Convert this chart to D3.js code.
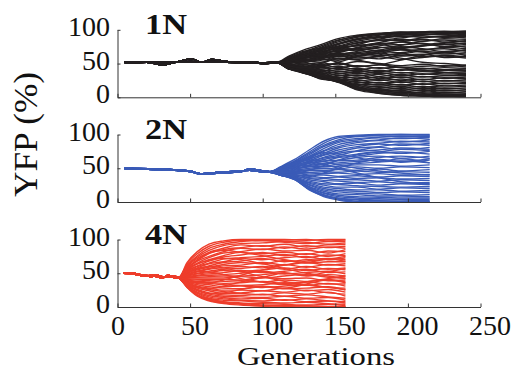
<!DOCTYPE html>
<html>
<head>
<meta charset="utf-8">
<script src="https://cdn.jsdelivr.net/npm/d3@7"></script>
<style>
  body { margin: 0; background: #fff; }
  svg text { font-family: "Liberation Serif", "DejaVu Serif", serif; fill: #111; }
</style>
</head>
<body>
<svg id="chart" width="511" height="370"></svg>
<script>
const panelNames  = ['1N', '2N', '4N'];
const panelColors = ['#231f20', '#3a5bb7', '#ee3d2b'];
const xTicks = [0, 50, 100, 150, 200, 250];
const yTicks = [0, 50, 100];
const serif = '"Liberation Serif", "DejaVu Serif", serif';

// 1N: shared start (three variants), then the individual trajectories
const earlyGens1N = [5, 20, 31, 40, 51, 58, 65, 75, 90, 100, 110];
const earlyVals1N = [
    [52, 52, 52, 52, 52, 52, 52, 52, 52, 51, 52],
    [52, 52, 48, 52, 57, 52, 56, 53, 52, 51, 51],
    [51, 52, 51, 52, 53, 52, 53, 52, 51, 50, 51]
];
const lateGens1N = [118, 128, 140, 152, 165, 180, 195, 210, 225, 240];
const lateVals1N = [
    [58, 66, 74, 84, 91, 94, 96, 97, 97, 98], [60, 68, 73, 82, 89, 93, 95, 96, 97, 97],
    [57, 63, 71, 80, 87, 92, 94, 95, 96, 96], [56, 62, 69, 78, 85, 90, 93, 93, 95, 95],
    [59, 64, 70, 76, 83, 88, 90, 92, 94, 93], [55, 61, 67, 75, 80, 86, 91, 89, 91, 92],
    [57, 60, 66, 73, 81, 84, 88, 91, 89, 90], [54, 62, 68, 72, 78, 85, 84, 88, 90, 88],
    [56, 59, 65, 74, 76, 81, 86, 83, 87, 86], [55, 63, 64, 70, 77, 79, 82, 86, 82, 84],
    [53, 58, 66, 68, 74, 80, 78, 83, 85, 82], [57, 60, 62, 71, 72, 76, 82, 79, 78, 80],
    [54, 59, 63, 66, 73, 78, 74, 77, 81, 78], [52, 57, 64, 69, 70, 73, 77, 80, 75, 76],
    [56, 55, 60, 67, 72, 69, 73, 76, 78, 74], [53, 58, 61, 63, 68, 74, 71, 70, 74, 72],
    [55, 56, 59, 65, 66, 70, 75, 72, 68, 70], [51, 57, 62, 60, 64, 68, 66, 71, 72, 68],
    [54, 53, 58, 64, 61, 65, 70, 67, 64, 66], [52, 56, 55, 61, 65, 62, 64, 68, 66, 64],
    [55, 54, 60, 57, 62, 66, 61, 63, 67, 62], [50, 55, 57, 62, 58, 61, 65, 60, 62, 60],
    [53, 51, 56, 55, 60, 57, 62, 64, 59, 60], [51, 54, 52, 58, 56, 60, 56, 59, 61, 58],
    [52, 49, 51, 48, 53, 50, 47, 49, 46, 48], [48, 51, 47, 50, 45, 48, 44, 46, 47, 45],
    [50, 46, 49, 44, 47, 43, 45, 42, 44, 43], [47, 49, 44, 46, 41, 44, 40, 43, 41, 42],
    [49, 45, 46, 41, 43, 38, 41, 39, 40, 40], [46, 47, 42, 43, 38, 40, 36, 38, 37, 38],
    [48, 43, 44, 38, 40, 35, 37, 34, 36, 36], [45, 45, 40, 39, 35, 37, 32, 35, 33, 34],
    [47, 41, 41, 35, 37, 31, 34, 30, 32, 32], [44, 43, 38, 36, 32, 34, 29, 31, 28, 30],
    [46, 39, 39, 32, 33, 28, 30, 26, 29, 28], [43, 42, 36, 33, 28, 30, 25, 27, 24, 26],
    [45, 38, 37, 29, 30, 25, 27, 23, 25, 24], [42, 40, 34, 30, 25, 26, 22, 24, 20, 22],
    [44, 37, 35, 27, 26, 21, 23, 19, 21, 20], [43, 39, 32, 28, 22, 22, 18, 20, 17, 18],
    [45, 36, 33, 26, 23, 18, 19, 15, 17, 16], [42, 38, 31, 27, 19, 19, 15, 16, 13, 14],
    [44, 37, 30, 25, 20, 15, 16, 12, 14, 12], [43, 39, 32, 24, 17, 16, 12, 13, 10, 11],
    [42, 36, 29, 24, 18, 12, 13, 9, 11, 9],   [44, 38, 30, 23, 15, 13, 9, 10, 7, 8],
    [43, 37, 28, 24, 16, 10, 10, 6, 8, 6],    [42, 39, 31, 25, 14, 11, 7, 7, 5, 5],
    [44, 36, 29, 23, 15, 8, 8, 4, 5, 4],      [43, 38, 27, 24, 12, 9, 5, 5, 3, 3],
    [42, 37, 30, 22, 13, 7, 6, 3, 3, 2],      [43, 38, 28, 23, 11, 6, 4, 2, 2, 1],
    [42, 40, 35, 27, 15, 7, 3, 2, 1, 1],      [44, 39, 33, 25, 14, 6, 3, 2, 1, 1],
    [61, 70, 78, 87, 92, 95, 96, 97, 98, 97], [58, 67, 76, 85, 90, 94, 97, 96, 97, 98],
    [57, 65, 72, 79, 86, 89, 92, 94, 93, 95], [55, 62, 70, 74, 70, 64, 58, 52, 50, 47],
    [47, 42, 45, 52, 60, 68, 72, 76, 80, 83], [53, 60, 58, 52, 46, 48, 55, 62, 66, 70],
    [46, 44, 50, 57, 55, 49, 44, 40, 37, 35]
];

// 2N
const earlyGens2N = [5, 25, 50, 57, 70, 85, 91, 100, 105];
const earlyVals2N = [
    [50, 49, 46, 41, 43, 45, 49, 46, 45],
    [50, 48, 46, 42, 44, 46, 47, 45, 45],
    [49, 49, 45, 42, 43, 45, 48, 45, 44]
];
const lateGens2N = [112, 122, 132, 142, 152, 165, 180, 195, 215];
const lateVals2N = [
    [52, 63, 77, 90, 97, 99, 100, 100, 100], [51, 61, 74, 87, 95, 98, 99, 100, 99],
    [50, 60, 72, 84, 92, 97, 98, 97, 98],    [51, 59, 70, 82, 90, 94, 96, 98, 97],
    [49, 58, 68, 79, 88, 92, 95, 94, 96],    [50, 57, 67, 76, 85, 90, 92, 95, 93],
    [48, 56, 65, 75, 82, 88, 91, 89, 92],    [49, 57, 63, 72, 80, 85, 87, 90, 89],
    [50, 55, 64, 70, 77, 82, 86, 84, 87],    [48, 54, 61, 69, 74, 80, 82, 86, 84],
    [47, 55, 60, 66, 72, 76, 81, 78, 81],    [49, 53, 59, 65, 69, 75, 77, 80, 78],
    [47, 52, 57, 63, 67, 71, 74, 72, 75],    [48, 51, 58, 60, 66, 68, 72, 74, 71],
    [46, 52, 55, 61, 62, 66, 68, 65, 68],    [47, 50, 54, 57, 61, 62, 66, 68, 65],
    [45, 49, 52, 56, 58, 60, 62, 59, 62],    [46, 48, 53, 53, 56, 57, 59, 61, 58],
    [45, 47, 50, 52, 53, 55, 55, 53, 55],    [44, 46, 48, 50, 49, 52, 50, 52, 51],
    [45, 45, 47, 47, 48, 47, 49, 46, 48],    [43, 44, 44, 45, 44, 46, 44, 45, 44],
    [44, 42, 43, 42, 43, 41, 42, 40, 41],    [42, 43, 40, 40, 38, 39, 37, 39, 38],
    [43, 40, 39, 36, 37, 35, 36, 34, 35],    [42, 41, 36, 35, 33, 33, 31, 33, 32],
    [41, 38, 35, 32, 31, 29, 30, 28, 29],    [42, 39, 33, 30, 27, 28, 25, 27, 26],
    [40, 37, 31, 27, 26, 24, 23, 22, 23],    [41, 36, 29, 25, 22, 22, 19, 21, 20],
    [40, 35, 28, 22, 20, 18, 18, 16, 17],    [41, 37, 26, 20, 17, 16, 14, 15, 14],
    [40, 35, 25, 18, 15, 13, 12, 10, 11],    [41, 36, 23, 16, 12, 11, 9, 9, 8],
    [40, 34, 22, 14, 10, 8, 7, 6, 6],        [40, 35, 21, 13, 8, 6, 5, 4, 4],
    [41, 34, 20, 11, 6, 4, 3, 3, 2],         [40, 33, 19, 10, 5, 3, 2, 1, 1],
    [40, 34, 18, 9, 4, 1, 0, 0, 0],          [41, 33, 19, 8, 3, 0, 0, 0, 0],
    [50, 58, 62, 60, 55, 50, 46, 43, 40],    [44, 43, 47, 54, 62, 70, 74, 78, 76],
    [47, 52, 58, 56, 50, 43, 36, 30, 27],    [42, 40, 38, 43, 50, 58, 63, 60, 64],
    [49, 56, 66, 73, 71, 66, 60, 64, 58]
];

// 4N
const earlyGens4N = [4, 10, 18, 24, 27, 31, 35, 38, 42];
const earlyVals4N = [
    [51, 50, 47, 46, 48, 44, 46, 45, 43],
    [50, 49, 46, 47, 45, 43, 47, 44, 43],
    [50, 50, 47, 45, 47, 45, 44, 46, 44]
];
const lateGens4N = [48, 55, 63, 73, 85, 100, 115, 130, 145, 157];
const lateVals4N = [
    [66, 82, 93, 98, 100, 100, 100, 99, 100, 100], [64, 79, 90, 96, 99, 98, 99, 100, 98, 99],
    [62, 76, 87, 93, 97, 99, 96, 94, 97, 97],      [61, 74, 84, 91, 94, 95, 97, 96, 93, 95],
    [60, 72, 81, 87, 92, 90, 93, 89, 92, 93],      [58, 69, 79, 85, 88, 91, 87, 91, 88, 90],
    [57, 68, 75, 82, 87, 85, 89, 86, 89, 87],      [56, 65, 73, 80, 82, 86, 83, 84, 80, 85],
    [55, 64, 70, 76, 81, 79, 81, 78, 83, 82],      [54, 61, 68, 74, 77, 81, 76, 79, 75, 79],
    [53, 60, 65, 71, 73, 75, 78, 73, 77, 76],      [52, 58, 64, 67, 72, 70, 73, 75, 70, 73],
    [51, 56, 61, 66, 68, 72, 67, 70, 72, 70],      [50, 55, 59, 63, 66, 64, 69, 65, 67, 67],
    [49, 53, 57, 61, 62, 66, 62, 66, 62, 64],      [48, 52, 56, 58, 60, 58, 63, 59, 63, 61],
    [47, 50, 53, 56, 57, 60, 56, 60, 56, 58],      [46, 49, 51, 54, 53, 55, 58, 54, 57, 55],
    [45, 47, 49, 51, 54, 51, 53, 56, 51, 52],      [44, 46, 47, 48, 50, 53, 49, 51, 53, 49],
    [44, 44, 45, 46, 46, 48, 51, 46, 48, 46],      [43, 43, 43, 43, 45, 43, 46, 48, 44, 43],
    [42, 41, 41, 41, 40, 44, 42, 43, 39, 40],      [41, 40, 39, 38, 39, 37, 40, 38, 41, 37],
    [40, 38, 37, 35, 36, 38, 35, 37, 34, 34],      [39, 36, 35, 33, 32, 33, 36, 32, 35, 31],
    [38, 35, 33, 30, 31, 29, 31, 33, 29, 28],      [37, 33, 30, 28, 27, 30, 27, 28, 30, 25],
    [36, 31, 28, 25, 25, 24, 28, 24, 26, 22],      [35, 30, 26, 23, 21, 24, 22, 25, 21, 19],
    [34, 28, 24, 20, 20, 18, 21, 19, 22, 16],      [33, 26, 21, 18, 17, 19, 16, 18, 15, 13],
    [32, 24, 19, 16, 15, 14, 16, 13, 14, 10],      [31, 22, 17, 14, 12, 13, 10, 12, 9, 8],
    [30, 21, 15, 12, 10, 9, 11, 8, 9, 6],          [30, 20, 13, 10, 9, 7, 6, 7, 5, 4],
    [29, 18, 12, 8, 6, 5, 4, 3, 4, 2],             [30, 17, 10, 6, 5, 3, 2, 2, 1, 1],
    [29, 16, 9, 5, 3, 2, 1, 0, 0, 0],              [31, 18, 11, 7, 4, 1, 0, 0, 0, 0],
    [56, 64, 69, 72, 70, 64, 57, 50, 46, 42],      [40, 37, 36, 40, 47, 55, 62, 68, 71, 75],
    [52, 57, 60, 58, 52, 45, 38, 33, 29, 26],      [35, 29, 27, 31, 37, 44, 50, 47, 52, 57],
    [58, 70, 80, 84, 81, 76, 70, 66, 71, 68],      [33, 25, 20, 21, 26, 31, 28, 34, 40, 36],
    [48, 53, 52, 48, 42, 37, 33, 37, 42, 46]
];

const panels = [
    { earlyGens: earlyGens1N, earlyVals: earlyVals1N, lateGens: lateGens1N, lateVals: lateVals1N },
    { earlyGens: earlyGens2N, earlyVals: earlyVals2N, lateGens: lateGens2N, lateVals: lateVals2N },
    { earlyGens: earlyGens4N, earlyVals: earlyVals4N, lateGens: lateGens4N, lateVals: lateVals4N }
];

const panelTops = [29.8, 134.5, 239.5];
const panelH    = 67.5;

const svg = d3.select('#chart');
svg.append('rect').attr('width', 511).attr('height', 370).attr('fill', '#fff');

const x = d3.scaleLinear().domain([0, 250]).range([117.5, 480.5]);

panels.forEach((p, pi) => {
    const top = panelTops[pi];
    const y = d3.scaleLinear().domain([0, 100]).range([top + panelH, top]);
    const g = svg.append('g');

    const line = d3.line()
        .x(d => x(d[0]))
        .y(d => y(d[1]))
        .curve(d3.curveMonotoneX);

    const series = p.lateVals.map((vals, i) => {
        const start = p.earlyVals[i % p.earlyVals.length];
        return p.earlyGens.map((gen, k) => [gen, start[k]])
            .concat(p.lateGens.map((gen, k) => [gen, vals[k]]));
    });

    g.selectAll('.traj')
        .data(series)
        .enter().append('path')
        .attr('class', 'traj')
        .attr('d', line)
        .attr('fill', 'none')
        .attr('stroke', panelColors[pi])
        .attr('stroke-width', 1.4);

    const yAxis = g.append('g')
        .attr('transform', `translate(${x(0)},0)`)
        .call(d3.axisLeft(y).tickValues(yTicks).tickSize(-3).tickSizeOuter(0).tickPadding(7.5));

    const xAxis = g.append('g')
        .attr('transform', `translate(0,${top + panelH})`)
        .call(d3.axisBottom(x).tickValues(xTicks).tickSize(-3.5).tickSizeOuter(0).tickPadding(8)
            .tickFormat(pi === 2 ? d3.format('d') : () => ''));

    [yAxis, xAxis].forEach(a => {
        a.attr('font-family', serif).attr('font-size', 28);
        a.selectAll('path, line').attr('stroke', '#333').attr('stroke-width', 1);
        a.selectAll('text').attr('font-family', serif).attr('font-size', 28).attr('fill', '#111');
    });
    yAxis.selectAll('text').attr('dy', '0.2em');
    xAxis.selectAll('text').attr('dx', d => (String(d).length - 1) * 4.5);

    svg.append('text')
        .attr('x', 145)
        .attr('y', top + 4)
        .attr('font-family', serif)
        .attr('font-size', 29)
        .attr('font-weight', 'bold')
        .attr('textLength', 42)
        .attr('lengthAdjust', 'spacingAndGlyphs')
        .text(panelNames[pi]);
});

svg.append('text')
    .attr('x', 316)
    .attr('y', 365)
    .attr('text-anchor', 'middle')
    .attr('font-family', serif)
    .attr('font-size', 26)
    .attr('textLength', 158)
    .attr('lengthAdjust', 'spacingAndGlyphs')
    .text('Generations');

svg.append('text')
    .attr('transform', 'translate(37,134.5) rotate(-90)')
    .attr('text-anchor', 'middle')
    .attr('font-family', serif)
    .attr('font-size', 34)
    .attr('textLength', 125)
    .attr('lengthAdjust', 'spacingAndGlyphs')
    .text('YFP (%)');
</script>
</body>
</html>
